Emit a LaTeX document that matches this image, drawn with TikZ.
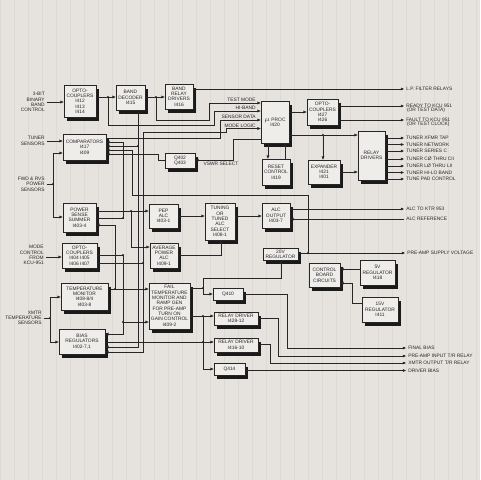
\documentclass[tikz,border=0pt]{standalone}
\usepackage{fontspec}
\setmainfont{Liberation Sans}
\usetikzlibrary{arrows.meta}
\definecolor{paper}{HTML}{E6E3DF}
\definecolor{gridc}{HTML}{DDDAD6}
\definecolor{boxc}{HTML}{EFEDEA}
\definecolor{ink}{HTML}{262626}
\definecolor{shad}{HTML}{1A1A1A}
\newcommand\fs{\fontsize{3.65}{4.0}\selectfont}
\newcommand\blok[6]{%
  \fill[shad] (#2+3.5,#3+3.5) rectangle (#4+3.5,#5+3.5);
  \node[box, minimum width={(#4-#2)*0.75pt}, minimum height={(#5-#3)*0.75pt}] (#1) at ({(#2+#4)/2},{(#3+#5)/2}) {#6};}
\newcommand\jd[1]{\fill[ink] (#1) circle (1.2);}
\begin{document}
\begin{tikzpicture}[x=0.75pt,y=-0.75pt,
  box/.style={draw=ink,fill=boxc,line width=0.5pt,align=center,inner sep=0pt,font=\fs,text=ink},
  lab/.style={font=\fs,text=ink,inner sep=0pt},
  wire/.style={draw=ink,line width=0.45pt},
  arr/.style={wire,-{Triangle[length=2.4pt,width=2pt]}}]
\useasboundingbox (0,0) rectangle (480,480);
\fill[paper] (0,0) rectangle (480,480);
\draw[gridc,line width=0.2pt,step=14] (0,0) grid (480,480);
\clip (0,0) rectangle (480,480);
% boxes
\blok{opto1}{64}{85}{96}{117}{OPTO-\\COUPLERS\\I412\\I413\\I414}
\blok{bdec}{116}{85}{145}{110}{BAND\\DECODER\\I415}
\blok{brd}{165}{84}{193}{109}{BAND\\RELAY\\DRIVERS\\I416}
\blok{comp}{63}{134}{106}{160}{COMPARATORS\\I417\\I409}
\blok{q402}{165}{153}{195}{168}{Q402\\Q403}
\blok{proc}{261}{101}{289}{143}{$\mu$ PROC\\I420}
\blok{reset}{262}{159}{290}{185}{RESET\\CONTROL\\I419}
\blok{opto3}{307}{99}{338}{125}{OPTO-\\COUPLERS\\I427\\I426}
\blok{exp}{308}{160}{340}{184}{EXPANDER\\I421\\I401}
\blok{rdrv}{358}{131}{385}{180}{RELAY\\DRIVERS}
\blok{pss}{63}{203}{96}{232}{POWER\\SENSE\\SUMMER\\I403-4}
\blok{pep}{149}{204}{178}{228}{PEP\\ALC\\I403-1}
\blok{tun}{205}{203}{235}{240}{TUNING\\OR\\TUNED\\ALC\\SELECT\\I408-1}
\blok{alco}{262}{203}{290}{228}{ALC\\OUTPUT\\I403-7}
\blok{opto2}{62}{243}{97}{268}{OPTO-\\COUPLERS\\I404 I405\\I406 I407}
\blok{avg}{150}{243}{178}{268}{AVERAGE\\POWER\\ALC\\I409-1}
\blok{reg20}{263}{248}{298}{260}{20V\\REGULATOR}
\blok{cbc}{309}{263}{340}{287}{CONTROL\\BOARD\\CIRCUITS}
\blok{reg5}{360}{260}{395}{285}{5V\\REGULATOR\\I418}
\blok{reg15}{362}{297}{398}{322}{15V\\REGULATOR\\I411}
\blok{tmon}{61}{283}{108}{310}{TEMPERATURE\\MONITOR\\I408-8/4\\I403-8}
\blok{fail}{149}{283}{190}{329}{FAIL\\TEMPERATURE\\MONITOR AND\\RAMP GEN\\FOR PRE-AMP\\TURN ON\\GAIN CONTROL\\I409-2}
\blok{q410}{213}{288}{243}{300}{Q410}
\blok{rd1}{214}{312}{258}{325}{RELAY DRIVER\\I428-12}
\blok{rd2}{214}{338}{258}{352}{RELAY DRIVER\\I416-10}
\blok{q414}{214}{363}{245}{375}{Q414}
\blok{bias}{59}{329}{105}{354}{BIAS\\REGULATORS\\I402-7,1}
% left labels
\node[lab,align=right,anchor=east] (l3bit) at (45,102) {3-BIT\\BINARY\\BAND\\CONTROL};
\node[lab,align=right,anchor=east] (lts) at (45,141) {TUNER\\SENSORS};
\node[lab,align=right,anchor=east] (lfwd) at (45,184) {FWD \& RVS\\POWER\\SENSORS};
\node[lab,align=right,anchor=east] (lmode) at (44,255) {MODE\\CONTROL\\FROM\\KCU-951};
\node[lab,align=right,anchor=east] (lxs) at (42,318) {XMTR\\TEMPERATURE\\SENSORS};
% right labels
\node[lab,anchor=west] (lpf) at (406,89) {L.P. FILTER RELAYS};
\node[lab,anchor=west] (lrdy) at (406,106) {READY TO KCU 951};
\node[lab,anchor=north west] at (lrdy.south west) {\,(OR TEST DATA)};
\node[lab,anchor=west] (lflt) at (406,120) {FAULT TO KCU 951};
\node[lab,anchor=north west] at (lflt.south west) {\,(OR TEST CLOCK)};
\node[lab,anchor=west] (t1) at (406,138) {TUNER XFMR TAP};
\node[lab,anchor=west] (t2) at (406,144.5) {TUNER NETWORK};
\node[lab,anchor=west] (t3) at (406,151) {TUNER SERIES C};
\node[lab,anchor=west] (t4) at (406,159) {TUNER CØ THRU CII};
\node[lab,anchor=west] (t5) at (406,166) {TUNER LØ THRU LII};
\node[lab,anchor=west] (t6) at (406,172.5) {TUNER HI-LO BAND};
\node[lab,anchor=west] (t7) at (406,179) {TUNE PAD CONTROL};
\node[lab,anchor=west] (lktr) at (406,209) {ALC TO KTR 953};
\node[lab,anchor=west] (lref) at (406,219) {ALC REFERENCE};
\node[lab,anchor=west] (lpre) at (407,253) {PRE-AMP SUPPLY VOLTAGE};
\node[lab,anchor=west] (lfin) at (408,348) {FINAL BIAS};
\node[lab,anchor=west] (lpin) at (408,356) {PRE-AMP INPUT T/R RELAY};
\node[lab,anchor=west] (lxo) at (408,363) {XMTR OUTPUT T/R RELAY};
\node[lab,anchor=west] (ldrv) at (408,370.5) {DRIVER BIAS};
% inner labels
\node[lab,anchor=south east] (ltm) at (256,102) {TEST MODE};
\node[lab,anchor=south east] (lhb) at (256,110) {HI-BAND};
\node[lab,anchor=south east] (lsd) at (256,119) {SENSOR DATA};
\node[lab,anchor=south east] (lml) at (256,127.5) {MODE LOGIC};
% junctions
\coordinate (j1) at (108,97);
\coordinate (j2) at (156,97);
\coordinate (j3) at (323,135);
\coordinate (j4) at (53,184);
\coordinate (j5) at (131,211);
\coordinate (j6) at (115,289);
\coordinate (j7) at (123,322);
\coordinate (j8) at (308,253);
\coordinate (j9) at (203,288);
\coordinate (j10) at (203,316);
\coordinate (j11) at (203,342);
\coordinate (j12) at (50,318);
\coordinate (j13) at (143,263);
\coordinate (j14) at (123,255);
\coordinate (j15) at (123,218);
% wires top
\draw[arr] ([xshift=1.2pt]l3bit.east) -- (opto1.west|-l3bit.east);
\draw[arr] (opto1.east|-0,97) -- (bdec.west|-0,97);
\draw[arr] (bdec.east|-0,97) -- (brd.west|-0,97);
\draw[arr] (brd.east|-0,89) -- ([xshift=-1.5pt]lpf.west);
\draw[arr] (j2) -- (156,120) -- (209,120) -- (209,103) -- (proc.west|-0,103);
\draw[arr] (j1) -- (108,125) -- (214,125) -- (214,111) -- (proc.west|-0,111);
\draw[arr] (comp.east|-0,138) -- (220,138) -- (220,120) -- (proc.west|-0,120);
\draw[arr] (opto2.east|-0,263) -- (j13) -- (143,132) -- (226,132) -- (226,128.5) -- (proc.west|-0,128.5);
\draw[arr] (j13) -- (143,352) -- (bias.east|-0,352);
\draw[arr] (proc.west|-0,139) -- (233,139) -- (233,160) -- (q402.east|-0,160);
\node[lab] (lvs) at (221,164) {VSWR SELECT};
\draw[arr] (q402.west|-0,160) -- (158,160) -- (158,154) -- (comp.east|-0,154);
\draw[arr] (proc.east|-0,112) -- (opto3.west|-0,112);
\draw[arr] (opto3.east|-0,106) -- ([xshift=-1.5pt]lrdy.west);
\draw[arr] (opto3.east|-0,120) -- ([xshift=-1.5pt]lflt.west);
\draw[arr] (proc.east|-0,135) -- (rdrv.west|-0,135);
\draw[arr] (j3) -- (exp.north-|j3);
\draw[arr] (exp.east|-0,172) -- (rdrv.west|-0,172);
\draw[arr] (proc.south-|268,0) -- (reset.north-|268,0);
\draw[arr] (reset.north-|285,0) -- (proc.south-|285,0);
\foreach \tn in {t1,t2,t3,t4,t5,t6,t7} {\draw[arr] (rdrv.east|-\tn.west) -- ([xshift=-1.5pt]\tn.west);}
% left inputs
\draw[arr] ([xshift=1.2pt]lts.east) -- (comp.west|-lts.east);
\draw[wire] ([xshift=1.2pt]lfwd.east) -- (j4);
\draw[arr] (j4) -- (53,153) -- (comp.west|-0,153);
\draw[arr] (j4) -- (53,217) -- (pss.west|-0,217);
\draw[arr] (pss.east|-0,211) -- (pep.west|-0,211);
\draw[arr] (j5) -- (131,247) -- (avg.west|-0,247);
\draw[arr] (pss.east|-0,218) -- (j15) -- (123,142) -- (comp.east|-0,142);
\draw[arr] (tmon.east|-0,289) -- (j6) -- (115,225) -- (pss.east|-0,225);
\draw[arr] (j6) -- (fail.west|-0,289);
\draw[arr] ([xshift=1.2pt]lmode.east|-0,257) -- (opto2.west|-0,257);
\draw[arr] (opto2.east|-0,255) -- (j14) -- (123,334) -- (bias.east|-0,334);
\draw[arr] (j7) -- (fail.west|-0,322);
\draw[arr] (bdec.south-|138,0) -- (138,347) -- (bias.east|-0,347);
\draw[arr] (138,146) -- (comp.east|-0,146);
\draw[wire] ([xshift=1.2pt]lxs.east) -- (j12);
\draw[arr] (j12) -- (50,297) -- (tmon.west|-0,297);
\draw[arr] (j12) -- (50,342) -- (bias.west|-0,342);
% ALC
\draw[arr] (pep.east|-0,216) -- (tun.west|-0,216);
\draw[arr] (avg.east|-0,255) -- (221,255) -- (tun.south-|221,0);
\draw[arr] (tun.east|-0,216) -- (alco.west|-0,216);
\draw[arr] (alco.east|-0,209) -- ([xshift=-1.5pt]lktr.west);
\draw[arr] ([xshift=-1.5pt]lref.west) -- (alco.east|-0,219);
\draw[arr] (reg20.east|-0,253) -- ([xshift=-1.5pt]lpre.west);
\draw[arr] (j8) -- (308,195) -- (132,195) -- (132,150) -- (comp.east|-0,150);
\draw[arr] (reg5.west|-0,269) -- (cbc.east|-0,269);
\draw[arr] (reg15.west|-0,303) -- (352,303) -- (352,283) -- (cbc.east|-0,283);
% fail / relay drivers
\draw[wire] (fail.east|-0,288) -- (j9);
\draw[arr] (j9) -- (203,278) -- (281,278) -- (reg20.south-|281,0);
\draw[arr] (j9) -- (203,294) -- (q410.west|-0,294);
\draw[arr] (fail.east|-0,316) -- (rd1.west|-0,316);
\draw[arr] (bias.east|-0,342) -- (rd2.west|-0,342);
\draw[arr] (j10) -- (203,369) -- (q414.west|-0,369);
\draw[arr] (q410.east|-0,294) -- (287,294) -- (287,348) -- ([xshift=-1.5pt]lfin.west);
\draw[arr] (rd1.east|-0,318) -- (278,318) -- (278,356) -- ([xshift=-1.5pt]lpin.west);
\draw[arr] (rd2.east|-0,344) -- (270,344) -- (270,363) -- ([xshift=-1.5pt]lxo.west);
\draw[arr] (q414.east|-0,370.5) -- ([xshift=-1.5pt]ldrv.west);
% dots
\foreach \p in {j1,j2,j3,j4,j5,j6,j7,j8,j9,j10,j11,j12,j13,j14,j15} {\jd{\p}}
\jd{138,146}
\end{tikzpicture}
\end{document}
